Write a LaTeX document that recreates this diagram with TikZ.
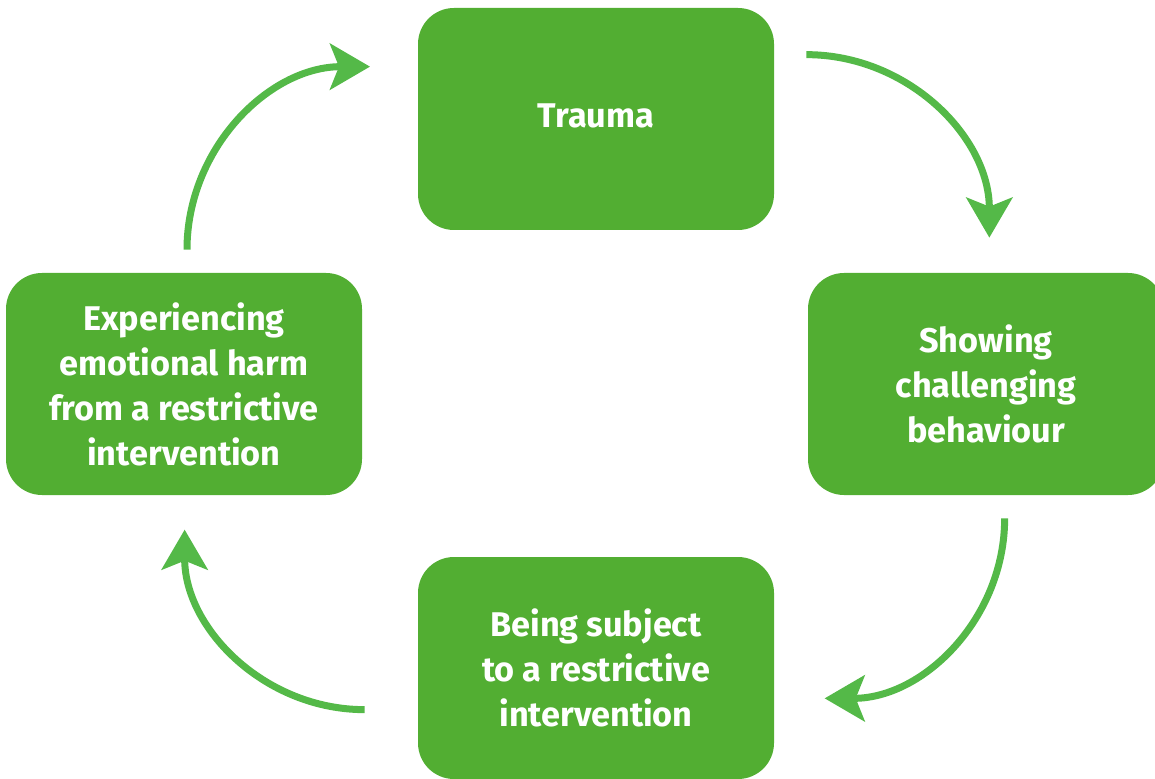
\documentclass[tikz,border=0pt]{standalone}
\usepackage{xcolor}
\usepackage{fontspec}
\setmainfont{Fira Sans}
\usetikzlibrary{arrows.meta}
\definecolor{boxgreen}{HTML}{52AE32}
\definecolor{arrowgreen}{HTML}{54B948}
\tikzset{
  stage/.style={rectangle, rounded corners=36*0.02cm, fill=boxgreen, text=white, align=center,
    minimum width=356*0.02cm, minimum height=222*0.02cm, inner sep=0pt,
    font=\fontsize{19.5}{25.6}\selectfont\bfseries},
  cyc/.style={draw=arrowgreen, line width=7*0.02cm,
    -{Stealth[length=40*0.02cm, width=46*0.02cm, inset=9*0.02cm]}}
}
\begin{document}
\begin{tikzpicture}[x=0.02cm, y=0.02cm]
      \useasboundingbox (0, 0) rectangle (1155, 778);
      \node [stage] (trauma) at (596, 659) {\raisebox{0.14cm}{Trauma}};
      \node [stage] (showing) at (986, 394) {Showing\\challenging\\behaviour};
      \node [stage] (subject) at (596, 110) {Being subject\\to a restrictive\\intervention};
      \node [stage] (harm) at (184, 394) {Experiencing\\emotional harm\\from a restrictive\\intervention};
      \draw [cyc] (trauma.north east) ++(32, -47) arc (90:0:183);
      \draw [cyc] (showing.south west) ++(197, -23) arc (0:-90:180);
      \draw [cyc] (subject.north west) ++(-53, -153) arc (-90:-180:180);
      \draw [cyc] (harm.north) ++(3, 23) arc (180:90:183);
\end{tikzpicture}
\end{document}
